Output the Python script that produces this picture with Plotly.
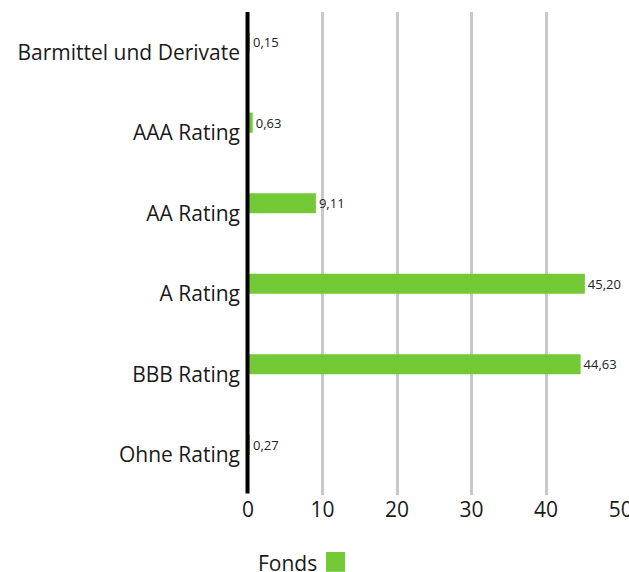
import plotly.graph_objects as go

categories = ["Barmittel und Derivate", "AAA Rating", "AA Rating", "A Rating", "BBB Rating", "Ohne Rating"]
fonds = [0.15, 0.63, 9.11, 45.20, 44.63, 0.27]
x_ticks = [0, 10, 20, 30, 40, 50]
series_name = "Fonds"

green = "#73C936"
font_family = "Open Sans, Noto Sans, sans-serif"

labels = [f"{v:.2f}".replace(".", ",") for v in fonds]

fig = go.Figure()
fig.add_trace(go.Bar(
    y=categories, x=fonds, orientation="h", name=series_name,
    marker=dict(color=green, line=dict(width=0)),
    width=0.25, offset=-0.25,
    text=labels, textposition="outside", cliponaxis=False,
    textfont=dict(size=13, color="#222222", family=font_family),
    showlegend=False, hoverinfo="skip",
))

# black zero line drawn over the bars' bases
fig.add_shape(type="line", xref="paper", yref="paper", x0=-0.0013, x1=-0.0013, y0=0.003, y1=1,
              line=dict(color="black", width=4), layer="above")

# legend: text followed by a swatch
fig.add_annotation(xref="paper", yref="paper", x=0.0214, y=-0.1408, xanchor="left", yanchor="middle",
                   text=series_name, showarrow=False, font=dict(size=21, color="#1a1a1a"))
fig.add_shape(type="rect", xref="paper", yref="paper", x0=0.209, x1=0.260, y0=-0.118, y1=-0.159,
              line=dict(width=0), fillcolor=green)

fig.update_layout(
    width=629, height=572,
    margin=dict(l=248, r=8, t=12, b=77, autoexpand=False),
    paper_bgcolor="white", plot_bgcolor="white",
    font=dict(family=font_family, size=21, color="#1a1a1a"),
    showlegend=False,
    xaxis=dict(range=[0, 50.05], tickvals=x_ticks, showgrid=True, gridcolor="#c8c8c8", gridwidth=3,
               zeroline=False, showline=False, ticks="", tickfont=dict(size=21),
               ticklabeloverflow="allow", automargin=False),
    yaxis=dict(autorange="reversed", showgrid=False, zeroline=False, showline=False,
               ticks="", ticklabelstandoff=7, tickfont=dict(size=21), automargin=False),
)

fig.write_html("out.html", config={"displayModeBar": False},
               post_script="document.body.style.margin='0';document.body.style.overflow='hidden';")
